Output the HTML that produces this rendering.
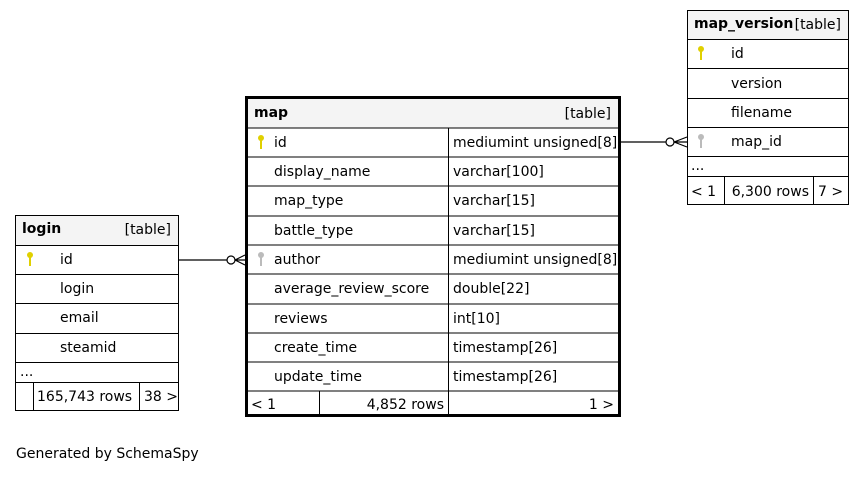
<!DOCTYPE html>
<html><head><meta charset="utf-8"><style>
body{margin:0;background:#fff;}
svg text{font-family:"DejaVu Sans","Liberation Sans",sans-serif;font-size:14px;fill:#000;}
.b{font-weight:bold;}
</style></head><body>
<svg width="864" height="473" viewBox="0 0 864 473" xmlns="http://www.w3.org/2000/svg">
<defs>
<g id="key"><circle cx="0" cy="-4" r="3" /><rect x="-1" y="-2" width="2" height="9"/></g>
</defs>
<g stroke="#000" stroke-width="1.2" fill="none">
<line x1="179" y1="260" x2="227" y2="260"/>
<circle cx="231" cy="260" r="4" fill="#fff"/>
<path d="M235 260 L245 255 M235 260 L245 265 M235 260 L245 260"/>
<line x1="621" y1="142" x2="666" y2="142"/>
<circle cx="670" cy="142" r="4" fill="#fff"/>
<path d="M674 142 L687 137 M674 142 L687 147 M674 142 L687 142"/>
</g>
<rect x="246.5" y="97.5" width="373" height="318" fill="#fff" stroke="#000" stroke-width="3"/>
<rect x="248" y="99" width="370" height="29" fill="#f4f4f4"/>
<g stroke="#000" stroke-width="1">
<line x1="248" y1="128" x2="618" y2="128"/>
<line x1="248" y1="157" x2="618" y2="157"/>
<line x1="248" y1="186" x2="618" y2="186"/>
<line x1="248" y1="216" x2="618" y2="216"/>
<line x1="248" y1="245" x2="618" y2="245"/>
<line x1="248" y1="274" x2="618" y2="274"/>
<line x1="248" y1="304" x2="618" y2="304"/>
<line x1="248" y1="333" x2="618" y2="333"/>
<line x1="248" y1="362" x2="618" y2="362"/>
<line x1="248" y1="391" x2="618" y2="391"/>
<line x1="448.5" y1="128" x2="448.5" y2="415"/>
<line x1="319.5" y1="391" x2="319.5" y2="415"/>
</g>
<text x="254" y="117" class="b">map</text>
<text x="611" y="118" text-anchor="end">[table]</text>
<g fill="#e0d000"><use href="#key" x="261" y="142"/></g>
<g fill="#bbb"><use href="#key" x="261" y="259"/></g>
<g>
<text x="274" y="147">id</text><text x="453" y="147">mediumint unsigned[8]</text>
<text x="274" y="176">display_name</text><text x="453" y="176">varchar[100]</text>
<text x="274" y="205">map_type</text><text x="453" y="205">varchar[15]</text>
<text x="274" y="235">battle_type</text><text x="453" y="235">varchar[15]</text>
<text x="274" y="264">author</text><text x="453" y="264">mediumint unsigned[8]</text>
<text x="274" y="293">average_review_score</text><text x="453" y="293">double[22]</text>
<text x="274" y="323">reviews</text><text x="453" y="323">int[10]</text>
<text x="274" y="352">create_time</text><text x="453" y="352">timestamp[26]</text>
<text x="274" y="381">update_time</text><text x="453" y="381">timestamp[26]</text>
<text x="251" y="409">&lt; 1</text>
<text x="444" y="409" text-anchor="end">4,852 rows</text>
<text x="614" y="409" text-anchor="end">1 &gt;</text>
</g>
<rect x="15.5" y="215.5" width="163" height="195" fill="#fff" stroke="#000"/>
<rect x="16" y="216" width="162" height="29" fill="#f4f4f4"/>
<g stroke="#000">
<line x1="15" y1="245.5" x2="179" y2="245.5"/>
<line x1="15" y1="274.5" x2="179" y2="274.5"/>
<line x1="15" y1="303.5" x2="179" y2="303.5"/>
<line x1="15" y1="333.5" x2="179" y2="333.5"/>
<line x1="15" y1="362.5" x2="179" y2="362.5"/>
<line x1="15" y1="382.5" x2="179" y2="382.5"/>
<line x1="33.5" y1="382" x2="33.5" y2="411"/>
<line x1="139.5" y1="382" x2="139.5" y2="411"/>
</g>
<text x="22" y="233" class="b">login</text>
<text x="171" y="234" text-anchor="end">[table]</text>
<g fill="#e0d000"><use href="#key" x="30" y="259"/></g>
<text x="60" y="264">id</text>
<text x="60" y="293">login</text>
<text x="60" y="322">email</text>
<text x="60" y="352">steamid</text>
<text x="20" y="376">...</text>
<text x="37" y="401">165,743 rows</text>
<text x="144" y="401">38 &gt;</text>
<rect x="687.5" y="10.5" width="161" height="194" fill="#fff" stroke="#000"/>
<rect x="688" y="11" width="160" height="28" fill="#f4f4f4"/>
<g stroke="#000">
<line x1="687" y1="39.5" x2="849" y2="39.5"/>
<line x1="687" y1="68.5" x2="849" y2="68.5"/>
<line x1="687" y1="98.5" x2="849" y2="98.5"/>
<line x1="687" y1="127.5" x2="849" y2="127.5"/>
<line x1="687" y1="156.5" x2="849" y2="156.5"/>
<line x1="687" y1="176.5" x2="849" y2="176.5"/>
<line x1="724.5" y1="176" x2="724.5" y2="205"/>
<line x1="813.5" y1="176" x2="813.5" y2="205"/>
</g>
<text x="694" y="28" class="b">map_version</text>
<text x="841" y="29" text-anchor="end">[table]</text>
<g fill="#e0d000"><use href="#key" x="701" y="53"/></g>
<g fill="#bbb"><use href="#key" x="701" y="141"/></g>
<text x="731" y="58">id</text>
<text x="731" y="88">version</text>
<text x="731" y="117">filename</text>
<text x="731" y="146">map_id</text>
<text x="691" y="170">...</text>
<text x="691" y="196">&lt; 1</text>
<text x="809" y="196" text-anchor="end">6,300 rows</text>
<text x="818" y="196">7 &gt;</text>
<text x="16" y="458">Generated by SchemaSpy</text>
</svg>
</body></html>
